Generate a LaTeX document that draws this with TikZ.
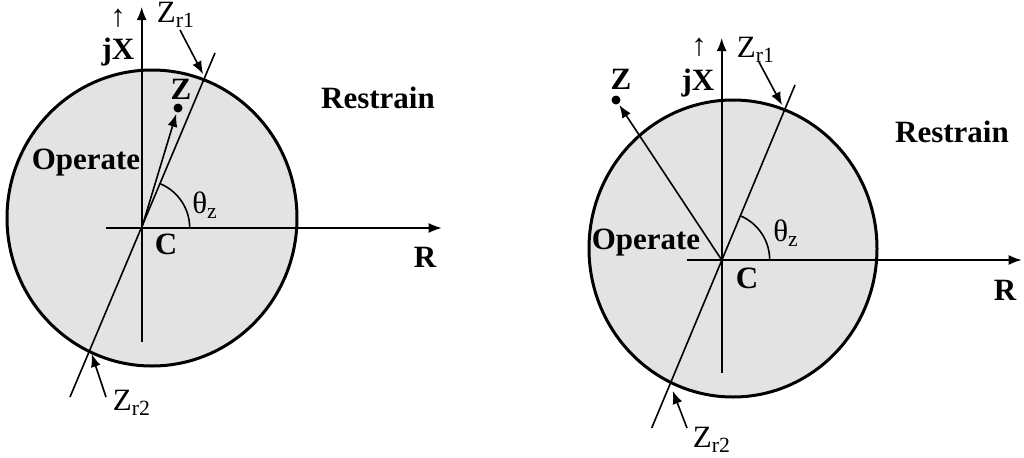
\documentclass[tikz,border=0pt]{standalone}
\usepackage{fontspec}
\setmainfont{Liberation Serif}
\usetikzlibrary{arrows.meta}
\begin{document}
\begin{tikzpicture}[x=0.5pt, y=0.5pt, font=\fontsize{15.5}{18}\selectfont, >={Latex[length=6.5pt, width=5pt]},
          zone/.style={draw, line width=1.5pt, fill=gray!22},
          axis/.style={line width=0.8pt},
          bold/.style={font=\fontsize{15.5}{18}\selectfont\bfseries, inner sep=0pt},
          plain/.style={inner sep=0pt},
          pointer/.style={->, line width=0.8pt, shorten >=1pt}]
        \useasboundingbox (0,0) rectangle (1024,457);
        % left diagram
        \coordinate (o1) at (141.7,229);
        \filldraw[zone] (152,239) ellipse [x radius=145, y radius=148];
        \draw[axis] (141.7,115) coordinate (xb1) -- (o1);
        \draw[axis, ->] (o1) -- (141.7,450) coordinate (xt1);
        \draw[axis] (106,229) coordinate (rb1) -- (o1);
        \draw[axis, ->] (o1) -- (441.7,229) coordinate (rt1);
        \draw[axis] (70,60) coordinate (lb1) -- (215,404) coordinate (lt1);
        \draw[axis] (o1) ++(48,0) arc[start angle=0, end angle=67, radius=48];
        \coordinate (z1) at (178,349);
        \draw[pointer, shorten >=3pt] (o1) -- (z1);
        \fill (z1) circle[radius=4.5];
        \node[bold] (zl1) at (181,368) {Z};
        \node[plain] (zr1) at (176,442) {Z\textsubscript{r1}};
        \coordinate (s1) at (180,427);
        \coordinate (p1) at (204,381);
        \draw[pointer] (s1) -- (p1);
        \node[plain] (zr2) at (132,54) {Z\textsubscript{r2}};
        \coordinate (s2) at (106,60);
        \coordinate (p2) at (91,105);
        \draw[pointer] (s2) -- (p2);
        \node[plain] (up1) at (118,439) {↑};
        \node[bold] (jx1) at (118,405) {jX};
        \node[bold] (op1) at (86,294) {Operate};
        \node[bold] (rs1) at (378,359) {Restrain};
        \node[plain] (th1) at (205,252) {θ\textsubscript{z}};
        \node[bold] (c1) at (166,213) {C};
        \node[bold] (r1) at (425,200) {R};
        % right diagram
        \coordinate (o2) at (721.7,197);
        \filldraw[zone] (733,208.5) ellipse [x radius=144, y radius=148.5];
        \draw[axis] (721.7,84) coordinate (xb2) -- (o2);
        \draw[axis, ->] (o2) -- (721.7,419) coordinate (xt2);
        \draw[axis] (686.7,197) coordinate (rb2) -- (o2);
        \draw[axis, ->] (o2) -- (1021.7,197) coordinate (rt2);
        \draw[axis] (651.7,29) coordinate (lb2) -- (795,372) coordinate (lt2);
        \draw[axis] (o2) ++(48,0) arc[start angle=0, end angle=67, radius=48];
        \coordinate (z2) at (616,357);
        \draw[pointer, shorten >=3pt] (o2) -- (z2);
        \fill (z2) circle[radius=4.5];
        \node[bold] (zl2) at (621,378) {Z};
        \node[plain] (zr1b) at (756,407) {Z\textsubscript{r1}};
        \coordinate (s3) at (759,395);
        \coordinate (p3) at (783,350);
        \draw[pointer] (s3) -- (p3);
        \node[plain] (zr2b) at (712,17) {Z\textsubscript{r2}};
        \coordinate (s4) at (687,29);
        \coordinate (p4) at (672,68);
        \draw[pointer] (s4) -- (p4);
        \node[plain] (up2) at (699,410) {↑};
        \node[bold] (jx2) at (698,374) {jX};
        \node[bold] (op2) at (646,214) {Operate};
        \node[bold] (rs2) at (952,325) {Restrain};
        \node[plain] (th2) at (786,224) {θ\textsubscript{z}};
        \node[bold] (c2) at (747,179) {C};
        \node[bold] (r2) at (1005,167) {R};
      \end{tikzpicture}
\end{document}
